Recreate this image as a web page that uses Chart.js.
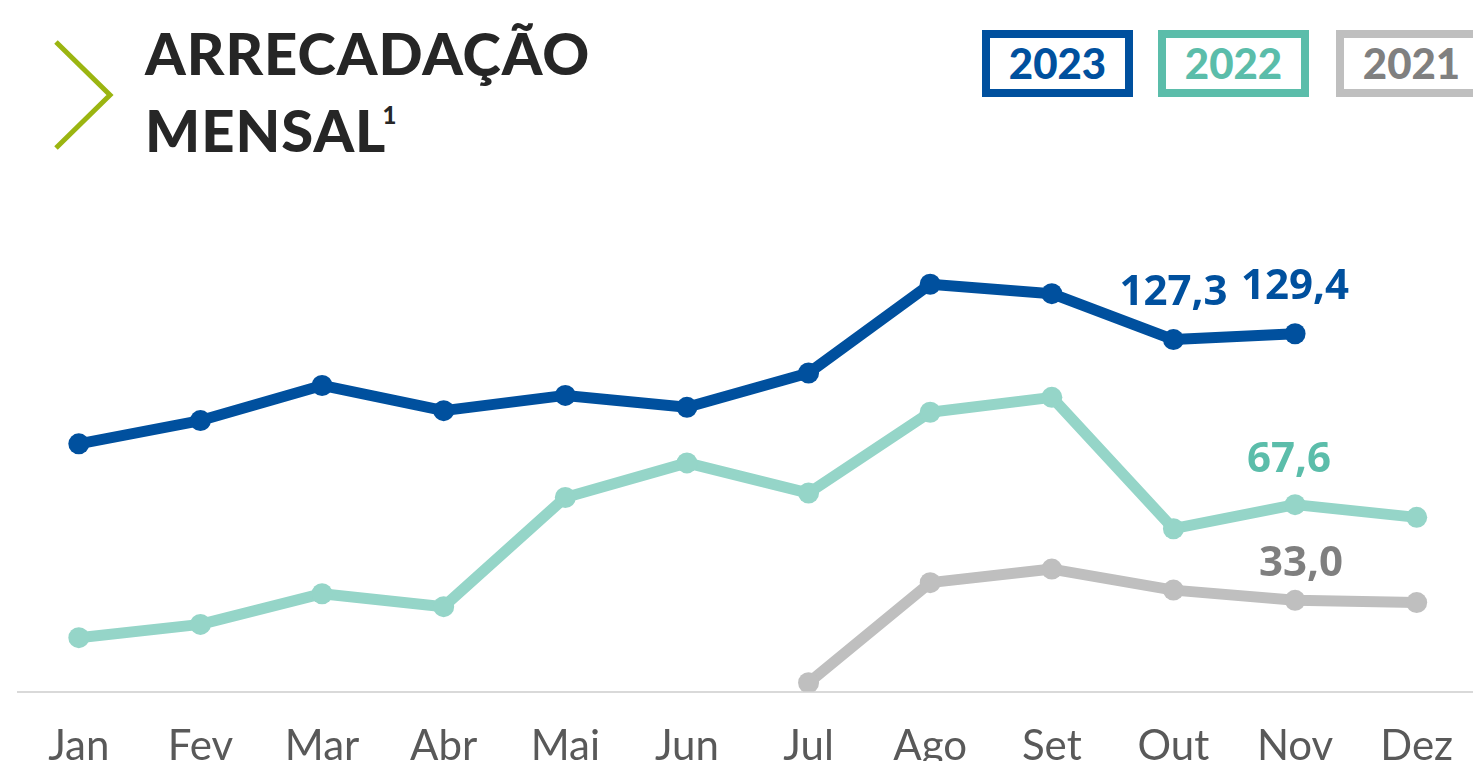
<!DOCTYPE html>
<html lang="pt-BR">
<head>
<meta charset="utf-8">
<title>Arrecadação mensal</title>
<script src="https://cdn.jsdelivr.net/npm/chart.js@4.4.1/dist/chart.umd.min.js"></script>
<style>
  html, body { margin: 0; padding: 0; background: #fff; overflow: hidden; }
  body { width: 1473px; height: 761px; position: relative; }
  #arrecadacao { position: absolute; left: 0; top: 0; }
  #title {
    position: absolute; left: 145px; top: 14px;
    font-family: Lato, sans-serif; font-weight: 900; font-size: 58px;
    line-height: 77px; color: #262626; letter-spacing: 1px;
  }
  #title sup { font-size: 24px; vertical-align: 28px; line-height: 0; margin-left: -4px; }
  #chevron { position: absolute; left: 0; top: 0; }
  .legBox {
    position: absolute; top: 30px; height: 51px; width: 135px;
    border: 8px solid; box-sizing: content-box;
    font-family: Lato, sans-serif; font-weight: 900; font-size: 42px;
    line-height: 51px; text-align: center;
  }
</style>
</head>
<body>
<svg id="chevron" width="130" height="170">
  <polyline points="56,42 110,95 56,148" fill="none" stroke="#9bb511" stroke-width="5"/>
</svg>
<div id="title">ARRECADAÇÃO<br>MENSAL<sup>1</sup></div>
<div id="legend"></div>
<canvas id="arrecadacao" width="1488" height="802"></canvas>
<script>
// meses
const months = ["Jan", "Fev", "Mar", "Abr", "Mai", "Jun", "Jul", "Ago", "Set", "Out", "Nov", "Dez"];

// valores
const values2023 = [89.6, 98.0, 110.7, 101.6, 107.1, 102.8, 115.2, 147.3, 143.9, 127.3, 129.4, null];
const values2022 = [19.5, 24.3, 35.4, 30.7, 70.2, 82.7, 71.8, 101.0, 106.4, 58.9, 67.6, 63.0];
const values2021 = [null, null, null, null, null, null, 3.2, 39.4, 44.3, 36.7, 33.0, 32.2];

const seriesNames = ["2023", "2022", "2021"];
// indices com rotulo de valor
const labeled2023 = [9, 10];
const labeled2022 = [10];
const labeled2021 = [10];

// legenda em caixas
const legendStyle = [
  { left: 982, border: "#00509e", text: "#00509e" },
  { left: 1158, border: "#5bbdaa", text: "#5bbdaa" },
  { left: 1336, border: "#bfbfbf", text: "#808080" },
];
const legend = document.getElementById("legend");
seriesNames.forEach((name, i) => {
  const box = document.createElement("div");
  box.className = "legBox";
  box.style.left = legendStyle[i].left + "px";
  box.style.borderColor = legendStyle[i].border;
  box.style.color = legendStyle[i].text;
  box.textContent = name;
  legend.appendChild(box);
});

// rotulos de valor (so alguns pontos)
const valueLabels = {
  id: "valueLabels",
  afterDatasetsDraw(chart) {
    const ctx = chart.ctx;
    ctx.save();
    ctx.font = "bold 42px 'Open Sans', sans-serif";
    ctx.textAlign = "center";
    ctx.textBaseline = "alphabetic";
    chart.data.datasets.forEach((ds, i) => {
      const meta = chart.getDatasetMeta(i);
      ds.labeled.forEach((idx) => {
        const pt = meta.data[idx];
        const txt = ds.data[idx].toFixed(1).replace(".", ",");
        ctx.fillStyle = ds.labelColor;
        ctx.fillText(txt, pt.x + ds.labelDx, pt.y - ds.labelDy);
      });
    });
    ctx.restore();
  },
};

const ctx = document.getElementById("arrecadacao");
new Chart(ctx, {
  type: "line",
  data: {
    labels: months,
    datasets: [
      {
        label: seriesNames[0],
        data: values2023,
        borderColor: "#00509e",
        backgroundColor: "#00509e",
        labeled: labeled2023,
        labelColor: "#00509e",
        labelDx: 0,
        labelDy: 35,
      },
      {
        label: seriesNames[1],
        data: values2022,
        borderColor: "#95d5c8",
        backgroundColor: "#95d5c8",
        labeled: labeled2022,
        labelColor: "#5bbdaa",
        labelDx: -6,
        labelDy: 33,
      },
      {
        label: seriesNames[2],
        data: values2021,
        borderColor: "#bfbfbf",
        backgroundColor: "#bfbfbf",
        labeled: labeled2021,
        labelColor: "#7f7f7f",
        labelDx: 6,
        labelDy: 24,
      },
    ],
  },
  options: {
    responsive: false,
    animation: false,
    layout: { padding: { left: 18, right: 0, top: 138.5, bottom: 0 } },
    elements: {
      line: { borderWidth: 11, tension: 0, borderCapStyle: "round", borderJoinStyle: "round" },
      point: { radius: 10.5, borderWidth: 0, hoverRadius: 10.5 },
    },
    plugins: {
      legend: { display: false },
      tooltip: { enabled: false },
    },
    scales: {
      x: {
        offset: true,
        grid: { display: false, drawTicks: false },
        border: { display: true, color: "#d9d9d9", width: 2 },
        ticks: {
          color: "#595959",
          padding: 30,
          font: { family: "Lato", size: 42 },
        },
      },
      y: {
        display: false,
        min: 0,
        max: 200,
      },
    },
  },
  plugins: [valueLabels],
});
</script>
</body>
</html>
